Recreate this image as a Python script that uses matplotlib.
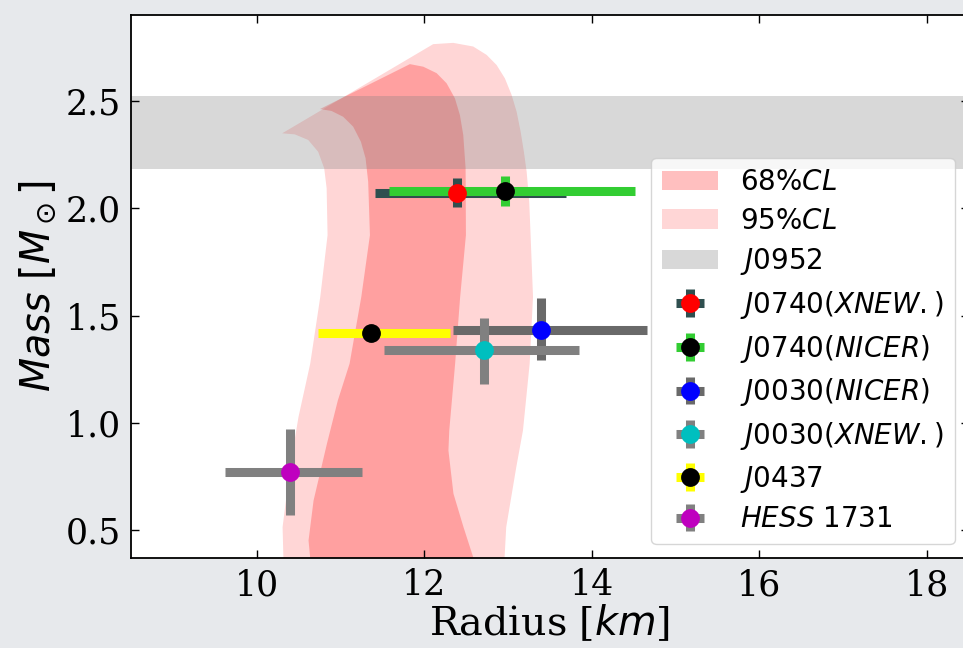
import matplotlib
matplotlib.use("Agg")
import matplotlib.pyplot as plt

# outlines of the credible regions in the M-R plane (radius in km, mass in Msun)
r95 = [10.32, 10.31, 10.40, 10.50, 10.64, 10.76, 10.847, 10.836, 10.807, 10.735,
       10.616, 10.457, 10.305, 12.108, 12.347, 12.586, 12.746, 12.865, 12.964,
       13.044, 13.104, 13.152, 13.191, 13.224, 13.255, 13.271, 13.30, 13.26,
       13.18, 13.10, 12.98, 12.96]
m95 = [0.37, 0.515, 0.794, 1.028, 1.276, 1.587, 1.874, 2.092, 2.185, 2.262,
       2.317, 2.343, 2.348, 2.763, 2.769, 2.752, 2.713, 2.666, 2.604,
       2.527, 2.449, 2.356, 2.262, 2.169, 2.029, 1.874, 1.587, 1.276,
       0.965, 0.794, 0.515, 0.37]

r68 = [10.64, 10.62, 10.68, 10.84, 10.97, 11.11, 11.25, 11.353, 11.332, 11.301,
       11.245, 11.153, 11.034, 10.895, 10.756, 11.83, 11.99, 12.149, 12.268,
       12.367, 12.427, 12.467, 12.495, 12.499, 12.43, 12.37, 12.30, 12.29,
       12.35, 12.47, 12.59]
m68 = [0.37, 0.453, 0.639, 0.904, 1.105, 1.276, 1.587, 1.874, 2.123, 2.232,
       2.309, 2.379, 2.425, 2.452, 2.461, 2.670, 2.658, 2.628, 2.581,
       2.511, 2.433, 2.340, 2.185, 1.874, 1.587, 1.276, 0.965, 0.872,
       0.671, 0.515, 0.37]

# J0952 mass band
j0952_lo, j0952_hi = 2.18, 2.52

# observations: R with lower/upper errors, M with lower/upper errors
names = [r"$J0740(XNEW.)$", r"$J0740(NICER)$", r"$J0030(NICER)$",
         r"$J0030(XNEW.)$", r"$J0437$", r"$HESS\ 1731$"]
radius = [12.39, 12.97, 13.40, 12.71, 11.36, 10.40]
r_lo = [0.98, 1.39, 1.06, 1.19, 0.63, 0.78]
r_hi = [1.30, 1.55, 1.26, 1.14, 0.95, 0.86]
mass = [2.072, 2.078, 1.433, 1.34, 1.418, 0.77]
m_lo = [0.066, 0.07, 0.14, 0.16, 0.037, 0.20]
m_hi = [0.067, 0.07, 0.15, 0.15, 0.037, 0.20]
mcolors = ["red", "black", "blue", "c", "black", "m"]
ecolors = ["darkslategray", "limegreen", "dimgray", "gray", "yellow", "gray"]

plt.rcParams["font.family"] = "serif"
plt.rcParams["font.serif"] = ["DejaVu Serif"]
plt.rcParams["mathtext.fontset"] = "dejavusans"

fig = plt.figure(figsize=(9.63, 6.48), dpi=100, facecolor="#e7e9ec")
ax = fig.add_axes([0.136, 0.1384, 0.8698, 0.8389])

ax.fill(r68, m68, color="red", alpha=0.25, lw=0, zorder=1.2, label=r"$68\%CL$")
ax.fill(r95, m95, color="red", alpha=0.16, lw=0, zorder=1.1, label=r"$95\%CL$")
ax.axhspan(j0952_lo, j0952_hi, color="gray", alpha=0.3, lw=0, zorder=1.3,
           label=r"$J0952$")

for i in range(len(names)):
    ax.errorbar(radius[i], mass[i],
                xerr=[[r_lo[i]], [r_hi[i]]], yerr=[[m_lo[i]], [m_hi[i]]],
                fmt="o", color=mcolors[i], ecolor=ecolors[i],
                elinewidth=6.5, ms=12.5, label=names[i])

ax.set_xlim(8.5, 18.5)
ax.set_ylim(0.37, 2.9)
ax.set_xticks([10, 12, 14, 16, 18])
ax.set_yticks([0.5, 1.0, 1.5, 2.0, 2.5])
ax.tick_params(direction="in", top=True, right=True, labelsize=25,
               length=6, width=1, pad=7)
for s in ax.spines.values():
    s.set_linewidth(1.3)

ax.set_xlabel(r"Radius [$km$]", fontsize=28.5, labelpad=0)
ax.set_ylabel(r"$Mass\ [M_\odot]$", fontsize=28.5, labelpad=6)

ax.legend(loc="lower right", fontsize=20, labelspacing=0.42)

fig.savefig("out.png", dpi=100, facecolor=fig.get_facecolor())
